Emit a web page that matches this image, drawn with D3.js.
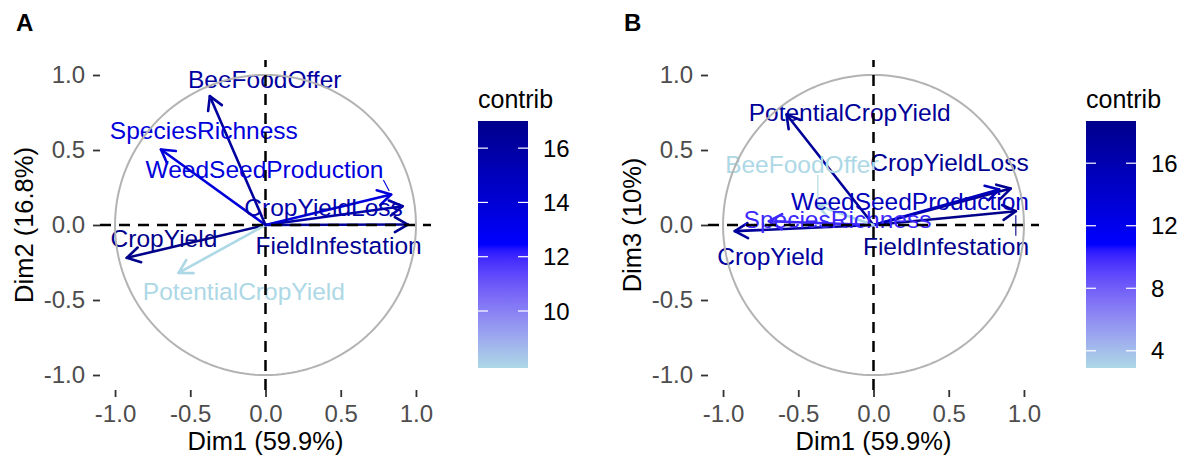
<!DOCTYPE html>
<html><head><meta charset="utf-8">
<script src="https://cdn.jsdelivr.net/npm/d3@7"></script>
<style>body{margin:0;background:#fff}</style>
</head><body>
<svg id="chart" width="1184" height="461"></svg>
<script>
// ---- data ----
const variables = ["FieldInfestation","CropYieldLoss","CropYield","PotentialCropYield","WeedSeedProduction","SpeciesRichness","BeeFoodOffer"];
const dim1 = [0.946, 0.912, -0.922, -0.578, 0.835, -0.695, -0.370];
const dim2 = [0.003, 0.125, -0.219, -0.319, 0.203, 0.503, 0.859];
const dim3 = [0.092, 0.243, -0.041, 0.737, 0.237, 0.025, 0.130];
const contribA = [16.7, 15.8, 17.0, 7.9, 13.8, 13.8, 16.2];
const contribB = [18.7, 18.2, 17.5, 17.8, 15.3, 10.0, 2.9];
// label anchor positions (data units, as placed by repel in the original)
const labelAx = [0.486, 0.386, -0.675, -0.144, -0.007, -0.410, -0.005];
const labelAy = [-0.137, 0.115, -0.092, -0.441, 0.370, 0.630, 0.970];
const labelBx = [0.482, 0.505, -0.684, -0.158, 0.243, -0.239, -0.476];
const labelBy = [-0.141, 0.415, -0.208, 0.748, 0.159, 0.037, 0.403];
const segmentA = [false, false, false, false, true, false, false];
const segmentB = [true, false, false, false, false, false, true];
const axisTicks = [-1, -0.5, 0, 0.5, 1];
const legendTicksA = [10, 12, 14, 16];
const legendTicksB = [4, 8, 12, 16];
const gradientCols = ["lightblue", "blue", "darkblue"];

const FONT = "'Liberation Sans', Arial, sans-serif";
const svg = d3.select("#chart").style("font-family", FONT);
const defs = svg.append("defs");

function makeColor(contrib) {
  const ext = d3.extent(contrib);
  return d3.scaleLinear().domain([ext[0], (ext[0]+ext[1])/2, ext[1]])
    .range(gradientCols).interpolate(d3.interpolateLab);
}

function drawPanel(opt) {
  const size = 331;
  const x = d3.scaleLinear().domain([-1.1, 1.1]).range([opt.left, opt.left + size]);
  const y = d3.scaleLinear().domain([-1.1, 1.1]).range([opt.top + size - 1, opt.top]);
  const color = makeColor(opt.contrib);
  const g = svg.append("g");

  // axes
  const fmt = d => d.toFixed(1);
  const xa = g.append("g").attr("transform", `translate(0,${opt.top + size - 1})`)
    .call(d3.axisBottom(x).tickValues(axisTicks).tickFormat(fmt).tickSize(7).tickPadding(5));
  const ya = g.append("g").attr("transform", `translate(${opt.left},0)`)
    .call(d3.axisLeft(y).tickValues(axisTicks).tickFormat(fmt).tickSize(7).tickPadding(8));
  [xa, ya].forEach(a => {
    a.select(".domain").remove();
    a.selectAll(".tick line").attr("stroke", "#333").attr("stroke-width", 1.8);
    a.selectAll(".tick text").attr("fill", "#4D4D4D").style("font-size", "24px").style("font-family", FONT);
  });
  xa.selectAll(".tick text").attr("dy", "0.85em");

  // arrows
  const ah = 15, ang = Math.PI / 6;
  variables.forEach((v, i) => {
    const c = color(opt.contrib[i]);
    const x0 = x(0), y0 = y(0), x1 = x(opt.dx[i]), y1 = y(opt.dy[i]);
    const th = Math.atan2(y1 - y0, x1 - x0);
    g.append("line").attr("x1", x0).attr("y1", y0).attr("x2", x1).attr("y2", y1)
      .attr("stroke", c).attr("stroke-width", 2.6).attr("stroke-linecap", "round");
    const p1 = [x1 - ah*Math.cos(th - ang), y1 - ah*Math.sin(th - ang)];
    const p2 = [x1 - ah*Math.cos(th + ang), y1 - ah*Math.sin(th + ang)];
    g.append("path").attr("d", `M${p1}L${x1},${y1}L${p2}`).attr("fill", "none")
      .attr("stroke", c).attr("stroke-width", 2.6).attr("stroke-linecap", "round").attr("stroke-linejoin", "round");
  });

  // labels + repel segments
  variables.forEach((v, i) => {
    const c = color(opt.contrib[i]);
    const t = g.append("text").attr("x", x(opt.lx[i])).attr("y", y(opt.ly[i]))
      .attr("text-anchor", "middle").attr("dominant-baseline", "central")
      .attr("fill", c).style("font-size", "24.5px").text(v);
    if (opt.seg[i]) {
      const b = t.node().getBBox();
      const px = x(opt.dx[i]), py = y(opt.dy[i]);
      const sx = Math.max(b.x, Math.min(px, b.x + b.width));
      const sy = Math.max(b.y + 3, Math.min(py, b.y + b.height - 3));
      const d = Math.hypot(px - sx, py - sy);
      const ex = px - (px - sx) / d * 4, ey = py - (py - sy) / d * 4;
      g.append("line").attr("x1", sx).attr("y1", sy).attr("x2", ex).attr("y2", ey)
        .attr("stroke", c).attr("stroke-width", 1.1);
    }
  });

  // unit circle (drawn over the labels, as in the original)
  const circ = d3.range(0, 361, 2).map(a => [Math.cos(a*Math.PI/180), Math.sin(a*Math.PI/180)]);
  g.append("path").attr("d", d3.line().x(d => x(d[0])).y(d => y(d[1]))(circ))
    .attr("fill", "none").attr("stroke", "#B3B3B3").attr("stroke-width", 2);

  // dashed zero lines
  g.append("line").attr("x1", x(-1.1)).attr("x2", x(1.1)).attr("y1", y(0)).attr("y2", y(0))
    .attr("stroke", "#000").attr("stroke-width", 2.5).attr("stroke-dasharray", "11,8");
  g.append("line").attr("x1", x(0)).attr("x2", x(0)).attr("y1", y(-1.1)).attr("y2", y(1.1))
    .attr("stroke", "#000").attr("stroke-width", 2.5).attr("stroke-dasharray", "11,8");

  // axis titles
  g.append("text").attr("x", x(0)).attr("y", 441).attr("text-anchor", "middle")
    .attr("dominant-baseline", "central").style("font-size", "25.5px").attr("fill", "#000").text(opt.xTitle);
  g.append("text").attr("transform", `translate(${opt.left - 76},${y(0)}) rotate(-90)`)
    .attr("text-anchor", "middle").attr("dominant-baseline", "central")
    .style("font-size", "25.5px").attr("fill", "#000").text(opt.yTitle);
  // tag
  g.append("text").attr("x", opt.tagX).attr("y", 31).style("font-size", "24px")
    .style("font-weight", "bold").attr("fill", "#000").text(opt.tag);

  // legend
  const lg = svg.append("g");
  const L = opt.legendLeft, T = 121, W = 50, H = 247;
  const ext = d3.extent(opt.contrib);
  const ls = d3.scaleLinear().domain(ext).range([T + H, T]);
  const gid = "grad" + opt.tag;
  const grad = defs.append("linearGradient").attr("id", gid)
    .attr("x1", 0).attr("y1", 1).attr("x2", 0).attr("y2", 0);
  d3.range(0, 1.0001, 0.02).forEach(tt => {
    grad.append("stop").attr("offset", tt).attr("stop-color", color(ext[0] + tt*(ext[1]-ext[0])));
  });
  lg.append("rect").attr("x", L).attr("y", T).attr("width", W).attr("height", H).attr("fill", `url(#${gid})`);
  opt.legendTicks.forEach(v => {
    lg.append("line").attr("x1", L).attr("x2", L + 10).attr("y1", ls(v)).attr("y2", ls(v)).attr("stroke", "#fff").attr("stroke-width", 1.2);
    lg.append("line").attr("x1", L + W - 10).attr("x2", L + W).attr("y1", ls(v)).attr("y2", ls(v)).attr("stroke", "#fff").attr("stroke-width", 1.2);
    lg.append("text").attr("x", L + W + 15).attr("y", ls(v)).attr("dominant-baseline", "central")
      .style("font-size", "24px").attr("fill", "#000").text(v);
  });
  lg.append("text").attr("x", L).attr("y", 99).attr("dominant-baseline", "central")
    .style("font-size", "25px").attr("fill", "#000").text("contrib");
}

drawPanel({left: 100, top: 60, dx: dim1, dy: dim2, contrib: contribA, lx: labelAx, ly: labelAy, seg: segmentA,
  xTitle: "Dim1 (59.9%)", yTitle: "Dim2 (16.8%)", tag: "A", tagX: 16, legendLeft: 478, legendTicks: legendTicksA});
drawPanel({left: 708, top: 60, dx: dim1, dy: dim3, contrib: contribB, lx: labelBx, ly: labelBy, seg: segmentB,
  xTitle: "Dim1 (59.9%)", yTitle: "Dim3 (10%)", tag: "B", tagX: 624, legendLeft: 1086, legendTicks: legendTicksB});
</script>
</body></html>
